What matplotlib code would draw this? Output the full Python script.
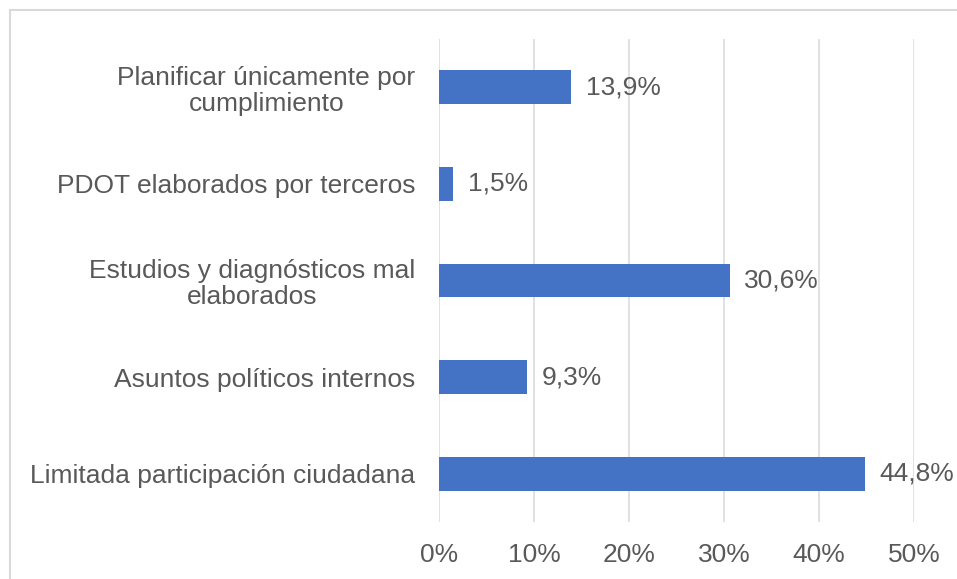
import numpy as np
import matplotlib as mpl
mpl.use('Agg')
import matplotlib.pyplot as plt
from matplotlib import font_manager as fm
from matplotlib.patches import Rectangle

# Data (bottom to top)
categories = ['Limitada participación ciudadana',
              'Asuntos políticos internos',
              'Estudios y diagnósticos mal\nelaborados',
              'PDOT elaborados por terceros',
              'Planificar únicamente por\ncumplimiento']
values = [44.8, 9.3, 30.6, 1.5, 13.9]
xticks = [0, 10, 20, 30, 40, 50]

text_color = '#595959'
bar_color = '#4472C4'
grid_color = '#d9d9d9'
fsize = 19

# make sure the regular (not narrow) Liberation Sans is used
paths = [f for f in fm.findSystemFonts() if f.endswith('LiberationSans-Regular.ttf')]
if paths:
    fp = fm.FontProperties(fname=paths[0], size=fsize)
else:
    fp = fm.FontProperties(family=['Liberation Sans', 'DejaVu Sans'], size=fsize)

fig = plt.figure(figsize=(9.57, 5.79), dpi=100)
ax = fig.add_axes([439 / 957, 57 / 579, 475 / 957, 483 / 579])

y = np.arange(len(categories))
ax.barh(y, values, height=0.35, color=bar_color, zorder=3)

for yi, v in zip(y, values):
    ax.annotate(f'{v:.1f}%'.replace('.', ','), (v, yi), xytext=(10.5, 0),
                textcoords='offset points', va='center', ha='left',
                fontproperties=fp, color=text_color)

ax.set_xlim(0, 50)
ax.set_ylim(-0.5, len(categories) - 0.5)
ax.set_xticks(xticks)
ax.set_xticklabels([f'{t}%' for t in xticks], fontproperties=fp)
ax.set_yticks(y)
ax.set_yticklabels(categories, fontproperties=fp)
for t in ax.get_yticklabels():
    t.set_multialignment('center')
    t.set_linespacing(1.12)

ax.tick_params(axis='both', length=0, labelcolor=text_color)
ax.tick_params(axis='y', pad=17)
ax.tick_params(axis='x', pad=15)
ax.grid(axis='x', color=grid_color, linewidth=1.1, zorder=0)
for s in ax.spines.values():
    s.set_visible(False)

# chart border
fig.patches.append(Rectangle((10 / 957, -0.1), 1.2, (569 / 579) + 0.1,
                             transform=fig.transFigure, fill=False,
                             edgecolor=grid_color, linewidth=1.5))

plt.savefig('out.png', dpi=100)
